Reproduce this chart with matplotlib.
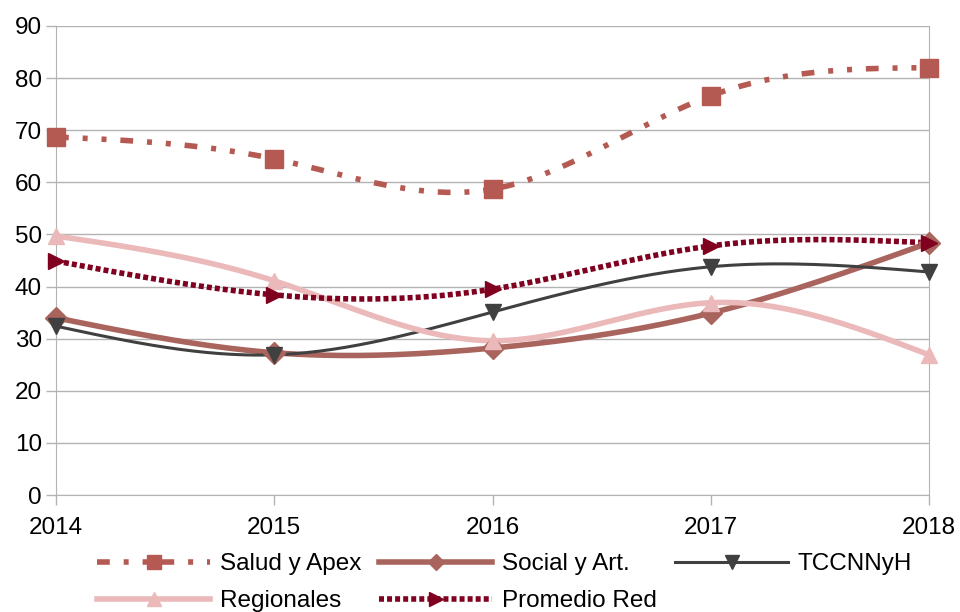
import numpy as np
import matplotlib
matplotlib.use("Agg")
import matplotlib.pyplot as plt

plt.rcParams['font.family'] = ['Liberation Sans', 'DejaVu Sans']

years = [2014, 2015, 2016, 2017, 2018]
salud = [68.7, 64.5, 58.7, 76.6, 82.0]
social = [34.0, 27.3, 28.2, 34.9, 48.4]
tccnnyh = [32.4, 26.9, 35.1, 43.8, 42.8]
regionales = [49.7, 41.1, 29.6, 36.9, 26.9]
promedio = [44.9, 38.4, 39.5, 47.8, 48.4]


# natural cubic spline through the points, only for drawing the smooth line
def spline(x, y, n=200):
    x = np.asarray(x, float)
    y = np.asarray(y, float)
    k = len(x)
    h = np.diff(x)
    A = np.zeros((k, k))
    b = np.zeros(k)
    A[0, 0] = A[-1, -1] = 1
    for i in range(1, k - 1):
        A[i, i - 1] = h[i - 1]
        A[i, i] = 2 * (h[i - 1] + h[i])
        A[i, i + 1] = h[i]
        b[i] = 6 * ((y[i + 1] - y[i]) / h[i] - (y[i] - y[i - 1]) / h[i - 1])
    M = np.linalg.solve(A, b)
    xs = np.linspace(x[0], x[-1], n)
    idx = np.clip(np.searchsorted(x, xs) - 1, 0, k - 2)
    x0, x1 = x[idx], x[idx + 1]
    hh = x1 - x0
    t0, t1 = x1 - xs, xs - x0
    ys = (M[idx] * t0 ** 3 / (6 * hh) + M[idx + 1] * t1 ** 3 / (6 * hh)
          + (y[idx] / hh - M[idx] * hh / 6) * t0
          + (y[idx + 1] / hh - M[idx + 1] * hh / 6) * t1)
    return xs, ys


fig = plt.figure(figsize=(9.6, 6.12), dpi=100)
ax = fig.add_axes([56 / 960, 1 - 495 / 612, (929 - 56) / 960, (495 - 26) / 612])

# name, values, colour, linestyle, marker, line width, marker size, legend marker size
series = [
    ('Salud y Apex', salud, '#b55a52', (0, (2.3, 2.5, 0.9, 2.5, 0.9, 2.5)), 's', 4, 13, 10),
    ('Social y Art.', social, '#a9645d', '-', 'D', 4, 11, 8),
    ('TCCNNyH', tccnnyh, '#404040', '-', 'v', 2.2, 12, 10),
    ('Regionales', regionales, '#ebb9b9', '-', '^', 4, 12, 10),
    ('Promedio Red', promedio, '#800020', (0, (0.9, 0.55)), '>', 4, 12, 10),
]

handles = {}
for name, vals, col, ls, mk, lw, ms, lms in series:
    xs, ys = spline(years, vals)
    ax.plot(xs, ys, color=col, ls=ls, lw=lw, zorder=3)
    ax.plot(years, vals, ls='none', marker=mk, color=col, ms=ms, zorder=4, clip_on=False)
    handles[name] = plt.Line2D([], [], color=col, ls=ls, lw=lw, marker=mk, ms=lms)

ax.set_xlim(2014, 2018)
ax.set_ylim(0, 90)
ax.set_yticks(range(0, 91, 10))
ax.set_xticks(years)
ax.tick_params(labelsize=17.5, length=7, color='#b3b3b3', width=1, pad=3)
ax.tick_params(axis='x', pad=9)
ax.grid(axis='y', color='#b3b3b3', lw=1)
ax.spines['top'].set_visible(False)
for s in ['left', 'right', 'bottom']:
    ax.spines[s].set_color('#b3b3b3')
ax.set_axisbelow(True)

order = ['Salud y Apex', 'Regionales', 'Social y Art.', 'Promedio Red', 'TCCNNyH']
fig.legend([handles[k] for k in order], order, loc='upper left', ncol=3,
           bbox_to_anchor=(97 / 960, 1 - 553 / 612), frameon=False, fontsize=17.5,
           handlelength=4.65, handletextpad=0.4, columnspacing=0.75,
           labelspacing=0.62, borderaxespad=0, borderpad=0)

fig.savefig('out.png', dpi=100)
